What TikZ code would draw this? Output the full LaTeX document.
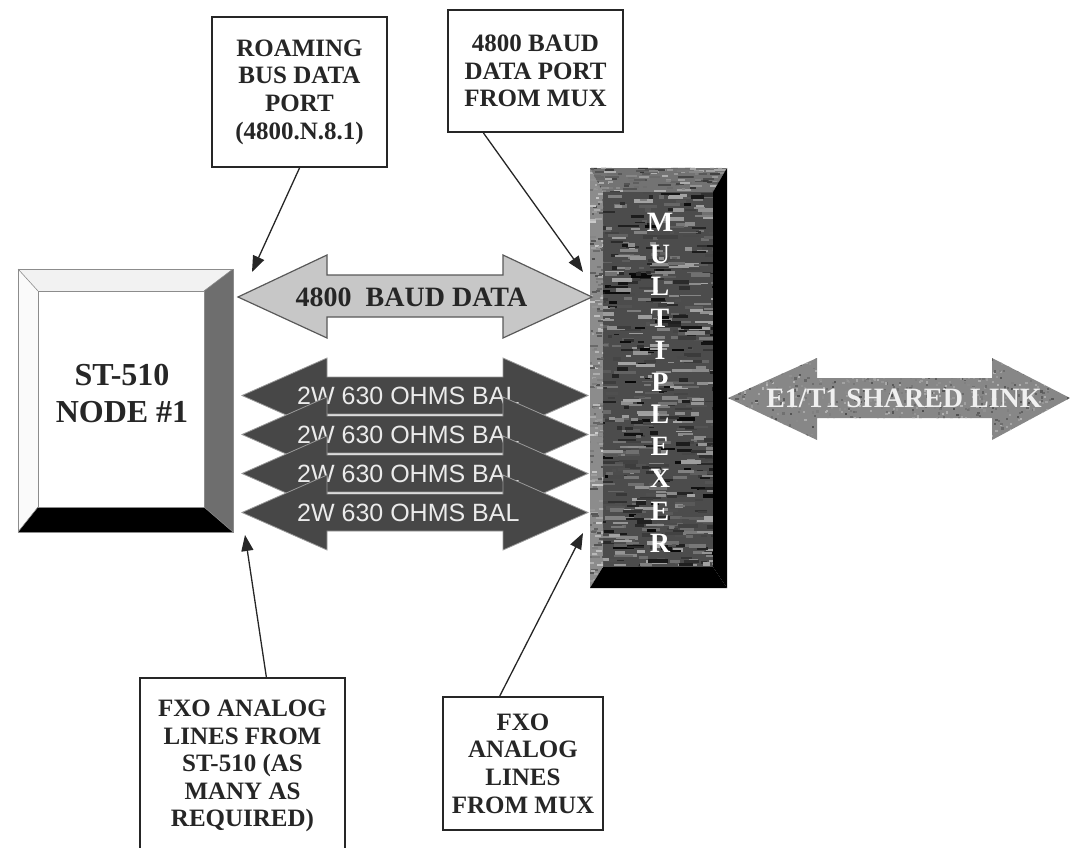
\documentclass[tikz,border=0pt]{standalone}
\usepackage{fontspec}
\setmainfont{Liberation Serif}
\newfontfamily\sansf{Liberation Sans}
\usetikzlibrary{arrows.meta}
\begin{document}
\begin{tikzpicture}[x=1pt,y=-1pt,
  callout/.style={draw=black!85,line width=2pt,fill=white,align=center,
    font=\fontsize{25}{27.6}\selectfont\bfseries,inner sep=0pt,text=black!85},
  pointer/.style={line width=1.3pt,draw=black!85,-{Triangle[length=16pt,width=12pt]}},
  darkarrow/.style={fill=black!72,draw=black!40,line width=0.8pt},
  ohmtext/.style={anchor=west,inner sep=0pt,text=black!8,font=\sansf\fontsize{25}{25}\selectfont},
  lightarrow/.style={fill=black!22,draw=black!65,line width=1.2pt},
  muxletter/.style={text=white,inner sep=0pt,font=\fontsize{28}{28}\selectfont\bfseries},
  bevel/.style={draw=black!45,line width=0.6pt}
]
\useasboundingbox (0,0) rectangle (1071,848);

% ---------------- ST-510 node box ----------------
\node[minimum width=215pt,minimum height=263pt,inner sep=0pt] (st) at (125.5,400.5) {};
\fill[black!5] (18,269) -- (233,269) -- (204,291) -- (38,291) -- cycle;
\fill[black!2] (18,269) -- (38,291) -- (38,507) -- (18,532) -- cycle;
\fill[black!57] (233,269) -- (233,532) -- (204,507) -- (204,291) -- cycle;
\fill[black] (18,532) -- (233,532) -- (204,507) -- (38,507) -- cycle;
\fill[white] (38,291) rectangle (204,507);
\draw[bevel] (18,269) rectangle (233,532);
\draw[bevel] (38,291) rectangle (204,507);
\draw[bevel] (18,269) -- (38,291) (233,269) -- (204,291) (233,532) -- (204,507) (18,532) -- (38,507);
\node[align=center,inner sep=0pt,text=black!85,font=\fontsize{32}{37}\selectfont\bfseries] (sttext) at (122,393.5) {ST-510\\NODE \#1};

% ---------------- Multiplexer ----------------
\node[minimum width=137pt,minimum height=420pt,inner sep=0pt] (mux) at (658.5,378) {};
\pgfmathsetseed{11}
\begin{scope}
  \clip (603,192) rectangle (713,567);
  \fill[black!70] (603,192) rectangle (713,567);
  \foreach \i in {1,...,650}{
    \pgfmathsetmacro{\xx}{596+117*rnd}
    \pgfmathsetmacro{\yy}{190+380*rnd}
    \pgfmathsetmacro{\ll}{4+18*rnd}
    \pgfmathsetmacro{\ww}{1.5+2.5*rnd}
    \pgfmathtruncatemacro{\gg}{35+63*rnd}
    \draw[line width=\ww pt,black!\gg] (\xx,\yy) -- ++(\ll,0);
  }
\end{scope}
\begin{scope}
  \clip (590,168) -- (603,192) -- (603,567) -- (590,588) -- cycle;
  \fill[black!45] (590,168) rectangle (603,588);
  \foreach \i in {1,...,220}{
    \pgfmathsetmacro{\xx}{588+15*rnd}
    \pgfmathsetmacro{\yy}{166+424*rnd}
    \pgfmathsetmacro{\ll}{2+6*rnd}
    \pgfmathtruncatemacro{\gg}{20+50*rnd}
    \draw[line width=2pt,black!\gg] (\xx,\yy) -- ++(\ll,0);
  }
\end{scope}
\begin{scope}
  \clip (590,168) -- (727,168) -- (713,192) -- (603,192) -- cycle;
  \fill[black!55] (590,168) rectangle (727,192);
  \foreach \i in {1,...,120}{
    \pgfmathsetmacro{\xx}{588+140*rnd}
    \pgfmathsetmacro{\yy}{166+27*rnd}
    \pgfmathsetmacro{\ll}{3+12*rnd}
    \pgfmathtruncatemacro{\gg}{30+50*rnd}
    \draw[line width=2pt,black!\gg] (\xx,\yy) -- ++(\ll,0);
  }
\end{scope}
\fill[black] (727,168) -- (727,588) -- (713,567) -- (713,192) -- cycle;
\fill[black] (590,588) -- (727,588) -- (713,567) -- (603,567) -- cycle;
\foreach \l [count=\i from 0] in {M,U,L,T,I,P,L,E,X,E,R}
  \node[muxletter] (muxl\i) at (660,222+32.1*\i) {\l};

% ---------------- 4800 baud data arrow ----------------
\draw[lightarrow] (238,297) -- (327,255) -- (327,275) -- (503,275) -- (503,255)
  -- (592,297) -- (503,338) -- (503,317) -- (327,317) -- (327,338) -- cycle;
\node[inner sep=0pt,text=black!85,font=\fontsize{28}{28}\selectfont\bfseries] (baudtext) at (411.5,297) {4800~~BAUD DATA};

% ---------------- 2W 630 OHMS BAL arrows ----------------
\foreach \c [count=\i] in {395.5,434.5,473.5,512.5}{
  \draw[darkarrow] (242,\c) -- (327,\c-37.5) -- (327,\c-18.5) -- (503,\c-18.5) -- (503,\c-37.5)
    -- (588,\c) -- (503,\c+37.5) -- (503,\c+18.5) -- (327,\c+18.5) -- (327,\c+37.5) -- cycle;
  \node[ohmtext] (ohm\i) at (297,\c) {2W 630 OHMS BAL};
}

% ---------------- E1/T1 shared link arrow ----------------
\begin{scope}
  \clip (728,398) -- (817,358) -- (817,378) -- (992,378) -- (992,358) -- (1070,398)
    -- (992,440) -- (992,418) -- (817,418) -- (817,440) -- cycle;
  \fill[black!47] (728,356) rectangle (1070,442);
  \foreach \i in {1,...,900}{
    \pgfmathsetmacro{\xx}{728+342*rnd}
    \pgfmathsetmacro{\yy}{356+86*rnd}
    \pgfmathtruncatemacro{\gg}{30+40*rnd}
    \fill[black!\gg] (\xx,\yy) rectangle ++(2.2,2.2);
  }
\end{scope}
\node[inner sep=0pt,text=black!6,font=\fontsize{28}{28}\selectfont\bfseries] (e1text) at (904,398) {E1/T1 SHARED LINK};

% ---------------- callout boxes ----------------
\node[callout,minimum width=175pt,minimum height=150pt] (roam) at (299.5,92)
  {ROAMING\\BUS DATA\\PORT\\(4800.N.8.1)};
\node[callout,minimum width=175pt,minimum height=122pt] (baudport) at (535.5,71)
  {4800 BAUD\\DATA PORT\\FROM MUX};
\node[callout,minimum width=205pt,minimum height=176pt] (fxoa) at (242.5,766)
  {FXO ANALOG\\LINES FROM\\ST-510 (AS\\MANY AS\\REQUIRED)};
\node[callout,minimum width=160pt,minimum height=133pt] (fxob) at (523,763.5)
  {FXO\\ANALOG\\LINES\\FROM MUX};

\coordinate (tipRoam) at (252,272);
\coordinate (tipBaud) at (583,272);
\coordinate (tipFxoA) at (245,535);
\coordinate (tipFxoB) at (583,533);
\draw[pointer] (roam.south) -- (tipRoam);
\draw[pointer] (baudport.230) -- (tipBaud);
\draw[pointer] (fxoa.75.5) -- (tipFxoA);
\draw[pointer] (fxob.109) -- (tipFxoB);
\end{tikzpicture}
\end{document}
